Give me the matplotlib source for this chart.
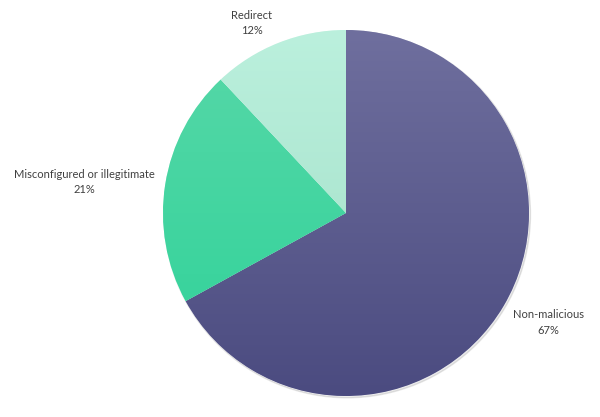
import matplotlib
matplotlib.use("Agg")
import matplotlib.pyplot as plt
import numpy as np
from matplotlib.colors import to_rgb

labels = ["Non-malicious", "Misconfigured or illegitimate", "Redirect"]
values = [67, 21, 12]
top_colors = ["#6f6f9e", "#58d8a8", "#bbf0dd"]
bottom_colors = ["#4b4b80", "#2ed299", "#a0dec6"]

W, H = 600, 417
fig = plt.figure(figsize=(6, 4.17), dpi=100)
ax = fig.add_axes([0, 0, 1, 1])

cx, cy, r = 346, 417 - 213, 183

shadow = plt.Circle((cx + 1.2, cy - 1.5), r + 0.3, color="#000000", alpha=0.09, zorder=0)
ax.add_patch(shadow)

wedges, _ = ax.pie(values, startangle=90, counterclock=False, center=(cx, cy), radius=r,
                   colors=top_colors, wedgeprops=dict(edgecolor="white", linewidth=0.4),
                   frame=True)

n = 256
t = np.linspace(0, 1, n)[:, None]
for w, tc, bc in zip(wedges, top_colors, bottom_colors):
    tcr = np.array(to_rgb(tc)); bcr = np.array(to_rgb(bc))
    grad = (1 - t) * tcr + t * bcr
    img = np.repeat(grad[:, None, :], 2, axis=1)
    im = ax.imshow(img, extent=(cx - r, cx + r, cy - r, cy + r), origin="upper",
                   aspect="auto", zorder=2, interpolation="bilinear")
    im.set_clip_path(w)
    w.set_zorder(1)

ax.set_xlim(0, W)
ax.set_ylim(0, H)
ax.set_aspect("equal")
ax.axis("off")

pcts = [f"{v}%" for v in values]
label_pos = [(548, 315), (84, 174), (252, 15)]
for lab, p, (x, y) in zip(labels, pcts, label_pos):
    ax.text(x, H - y, lab, ha="center", va="center", fontsize=8, color="#404040",
            family="Lato", zorder=5)
    ax.text(x, H - (y + 15), p, ha="center", va="center", fontsize=8, color="#404040",
            family="Lato", zorder=5)

fig.savefig("out.png", dpi=100)
